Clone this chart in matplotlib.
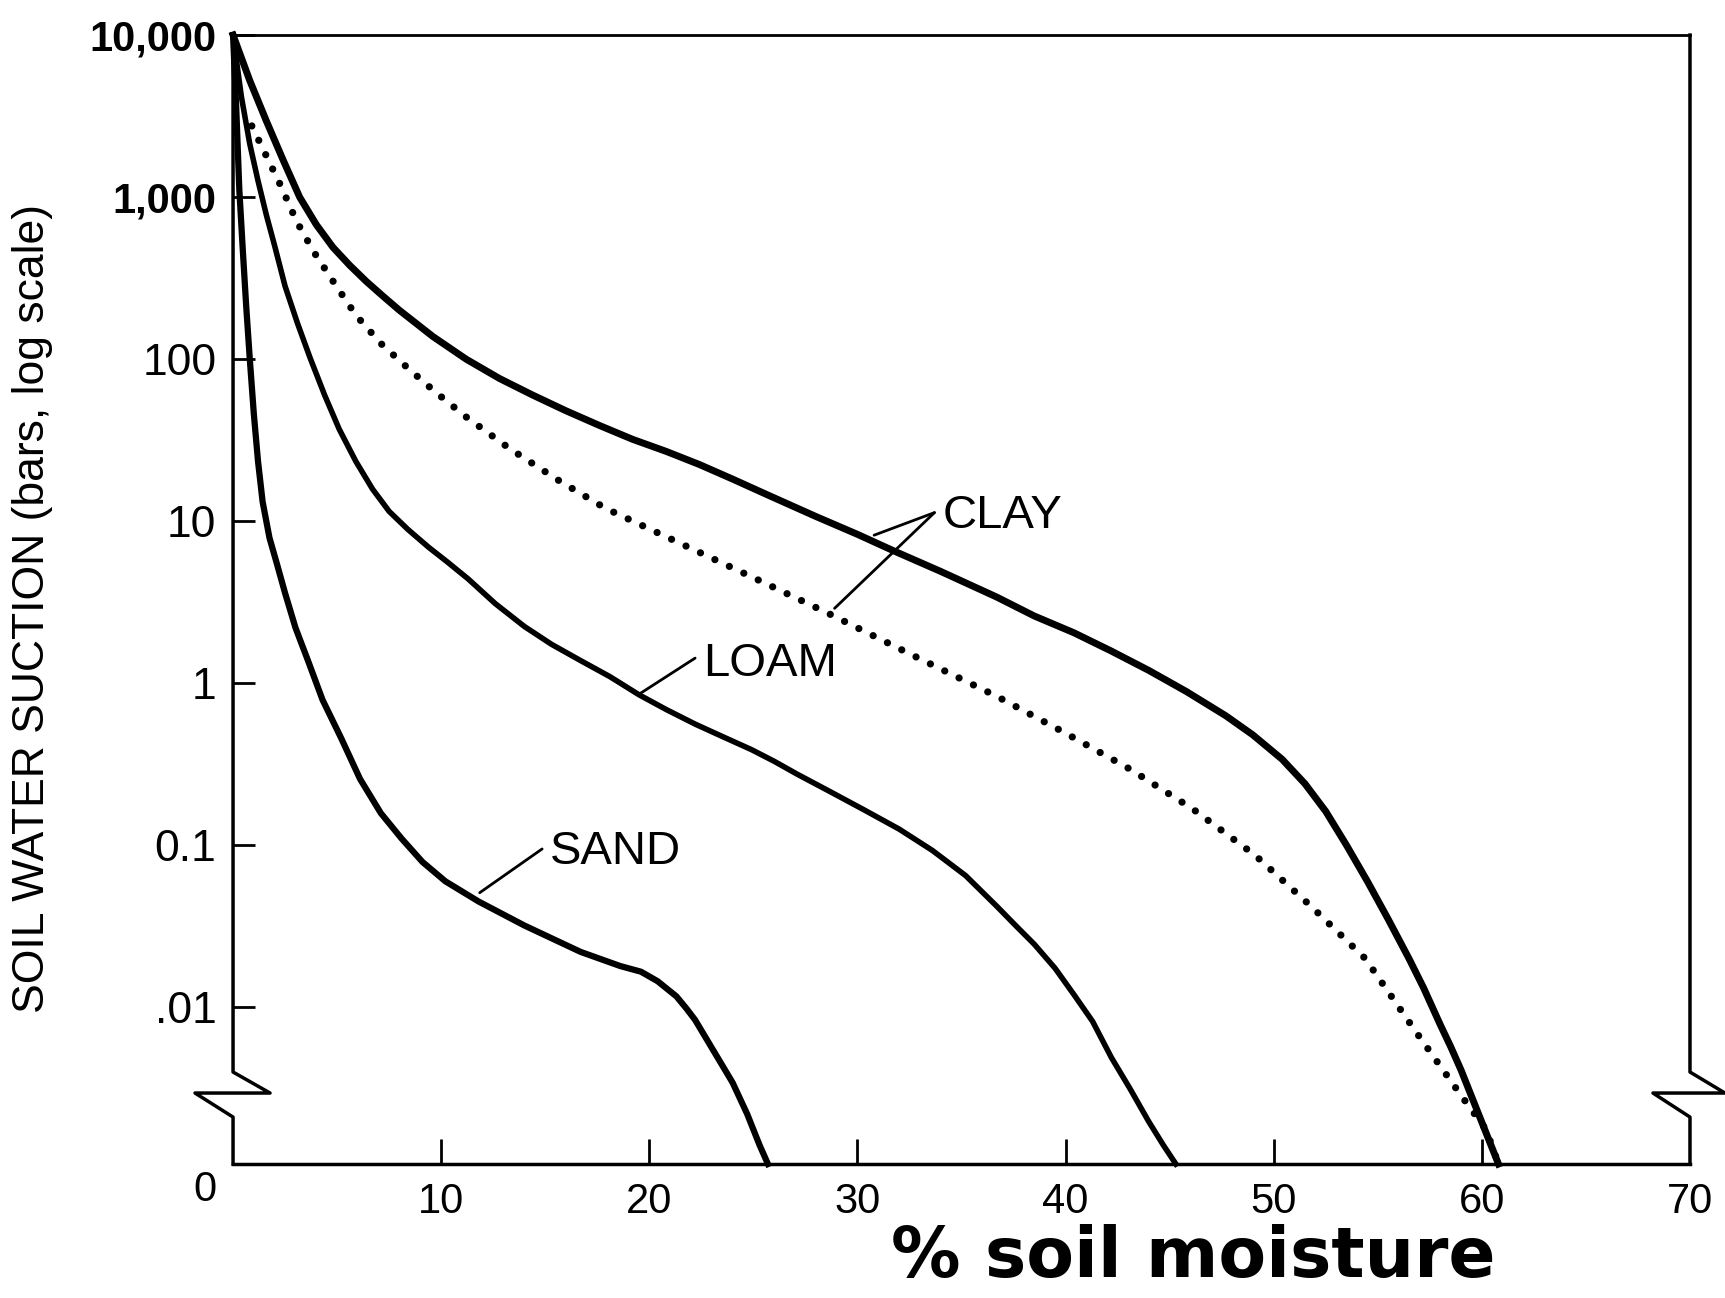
import matplotlib
matplotlib.use("Agg")
import matplotlib.pyplot as plt
from matplotlib.ticker import NullLocator

plt.rcParams['font.family'] = ['Liberation Sans', 'DejaVu Sans']

# soil water suction (bars) against % soil moisture
sand_x = [0, 0.15, 0.3, 0.47, 0.63, 0.8, 1.0, 1.2, 1.42, 1.75, 2.1, 2.5, 3.0, 3.6, 4.3, 5.2, 6.1,
          7.1, 8.1, 9.1, 10.2, 11.8, 14.0, 16.7, 18.6, 19.6, 20.4, 21.3, 21.8, 22.2, 23.1, 24.0,
          24.7, 25.3, 25.7]
sand_y = [10000, 3630, 1120, 468, 214, 102, 45.7, 23.4, 13.2, 7.9, 5.5, 3.6, 2.2, 1.38, 0.79,
          0.457, 0.257, 0.158, 0.110, 0.079, 0.060, 0.045, 0.032, 0.022, 0.018, 0.0166, 0.0145,
          0.0117, 0.0099, 0.0092, 0.0072, 0.0052, 0.0032, 0.0012, 0]

loam_x = [0, 0.4, 0.8, 1.2, 1.6, 2.0, 2.5, 3.1, 3.7, 4.4, 5.1, 5.9, 6.7, 7.5, 8.4, 9.4, 10.3,
          11.3, 12.6, 14.0, 15.3, 16.7, 18.1, 19.5, 20.8, 22.2, 23.5, 24.9, 26.0, 27.1, 28.7,
          30.3, 32.0, 33.6, 35.2, 36.7, 37.6, 38.5, 39.5, 40.4, 41.3, 42.2, 43.1, 44.0, 44.7, 45.3]
loam_y = [10000, 4170, 2140, 1260, 776, 500, 282, 166, 102, 60, 37, 23.4, 15.8, 11.5, 8.9, 6.9,
          5.6, 4.4, 3.1, 2.24, 1.74, 1.38, 1.10, 0.85, 0.69, 0.56, 0.47, 0.39, 0.33, 0.275, 0.214,
          0.166, 0.126, 0.093, 0.065, 0.042, 0.032, 0.0245, 0.0174, 0.0120, 0.0091, 0.0068,
          0.0048, 0.0027, 0.0012, 0]

clay_x = [0, 0.8, 1.6, 2.4, 3.2, 4.0, 4.8, 5.6, 6.4, 7.2, 8.0, 9.6, 11.2, 12.8, 14.4, 16.0, 17.6,
          19.2, 20.8, 22.4, 24.0, 25.7, 28.0, 30.0, 31.7, 34.0, 36.7, 38.5, 40.4, 42.2, 44.0,
          45.8, 47.7, 49.0, 50.4, 51.5, 52.5, 53.5, 54.5, 55.5, 56.5, 57.2, 58.0, 58.5, 59.0,
          59.6, 60.2, 60.8]
clay_y = [10000, 5250, 2950, 1700, 1000, 676, 490, 380, 302, 245, 200, 138, 100, 76, 60, 48, 39,
          32, 27, 22.4, 18.2, 14.5, 10.7, 8.3, 6.6, 4.9, 3.4, 2.6, 2.05, 1.58, 1.2, 0.89, 0.63,
          0.48, 0.34, 0.24, 0.162, 0.100, 0.060, 0.035, 0.020, 0.0132, 0.0089, 0.0075, 0.0060,
          0.0040, 0.0020, 0]

# second (dotted) clay curve
clay2_x = [0.9, 2.3, 3.05, 3.9, 4.9, 5.9, 7.1, 8.4, 9.7, 11.2, 13.3, 15.6, 17.9, 22.0, 25.3,
           28.6, 32.6, 36.7, 39.9, 43.1, 46.1, 49.1, 51.8, 54.4, 56.8, 59.1, 60.2, 60.8]
clay2_y = [2750, 1170, 710, 455, 290, 187, 125, 88, 63, 44, 28, 18, 12, 6.8, 4.3, 2.7, 1.5,
           0.83, 0.50, 0.295, 0.168, 0.087, 0.042, 0.020, 0.0085, 0.0042, 0.0022, 0]

xticks = [10, 20, 30, 40, 50, 60, 70]
yticks = [0.01, 0.1, 1, 10, 100, 1000, 10000]
ytick_labels = ['.01', '0.1', '1', '10', '100', '1,000', '10,000']

fig = plt.figure(figsize=(17.25, 12.98), dpi=100)
ax = fig.add_axes([0.1351, 0.1032, 0.8446, 0.8698])

ax.plot(sand_x, sand_y, color='black', lw=4.5, clip_on=False)
ax.plot(loam_x, loam_y, color='black', lw=4.0, clip_on=False)
ax.plot(clay_x, clay_y, color='black', lw=5.0, clip_on=False)
ax.plot(clay2_x, clay2_y, color='black', lw=5.2, linestyle=(0, (0.01, 2.2)),
        dash_capstyle='round', clip_on=False)

ax.set_yscale('symlog', linthresh=0.01, linscale=0.87)
ax.set_ylim(0, 10000)
ax.set_xlim(0, 70)
ax.yaxis.set_minor_locator(NullLocator())
ax.xaxis.set_minor_locator(NullLocator())
ax.set_yticks(yticks, ytick_labels)
ax.set_xticks(xticks, [str(v) for v in xticks])

ax.tick_params(axis='y', direction='in', length=16, width=2, pad=12, labelsize=32)
ax.tick_params(axis='x', direction='in', length=18, width=2, pad=13, labelsize=30)
for lbl in ax.get_yticklabels()[-2:]:
    lbl.set_fontweight('bold')
    lbl.set_fontsize(30)
ax.xaxis.get_major_ticks()[-1].tick1line.set_visible(False)

ax.spines['left'].set_visible(False)
ax.spines['right'].set_visible(False)
ax.spines['top'].set_linewidth(2)
ax.spines['bottom'].set_linewidth(2.5)

# broken side axes (zigzag near the bottom)
brk_y = [1, 0.0815, 0.0629, 0.0629, 0.0416, 0]
ax.plot([0, 0, 0.0254, -0.0261, 0, 0], brk_y, transform=ax.transAxes,
        clip_on=False, color='black', lw=2.5)
ax.plot([1, 1, 1.024, 0.9746, 1, 1], brk_y, transform=ax.transAxes,
        clip_on=False, color='black', lw=2.5)

ax.annotate('0', xy=(0, 0), xycoords='axes fraction', xytext=(-28, -26),
            textcoords='offset pixels', ha='center', va='center', fontsize=30)

# curve labels with leader lines
line_kw = dict(arrowstyle='-', lw=2, color='black', shrinkA=0, shrinkB=0)
ax.text(34.1, 10.8, 'CLAY', fontsize=34, ha='left', va='center')
ax.annotate('', xy=(30.8, 8.2), xytext=(33.7, 11.3), arrowprops=line_kw)
ax.annotate('', xy=(28.9, 2.9), xytext=(33.7, 11.3), arrowprops=line_kw)
ax.text(22.6, 1.32, 'LOAM', fontsize=34, ha='left', va='center')
ax.annotate('', xy=(19.5, 0.855), xytext=(22.2, 1.43), arrowprops=line_kw)
ax.text(15.2, 0.091, 'SAND', fontsize=34, ha='left', va='center')
ax.annotate('', xy=(11.85, 0.051), xytext=(14.85, 0.095), arrowprops=line_kw)

fig.text(0.019, 0.531, 'SOIL WATER SUCTION (bars, log scale)', rotation=90,
         ha='center', va='center', fontsize=32)
fig.text(0.692, 0.016, '% soil moisture', ha='center', va='baseline',
         fontsize=50, fontweight='bold', family='DejaVu Sans')

fig.savefig('out.png', dpi=100)
